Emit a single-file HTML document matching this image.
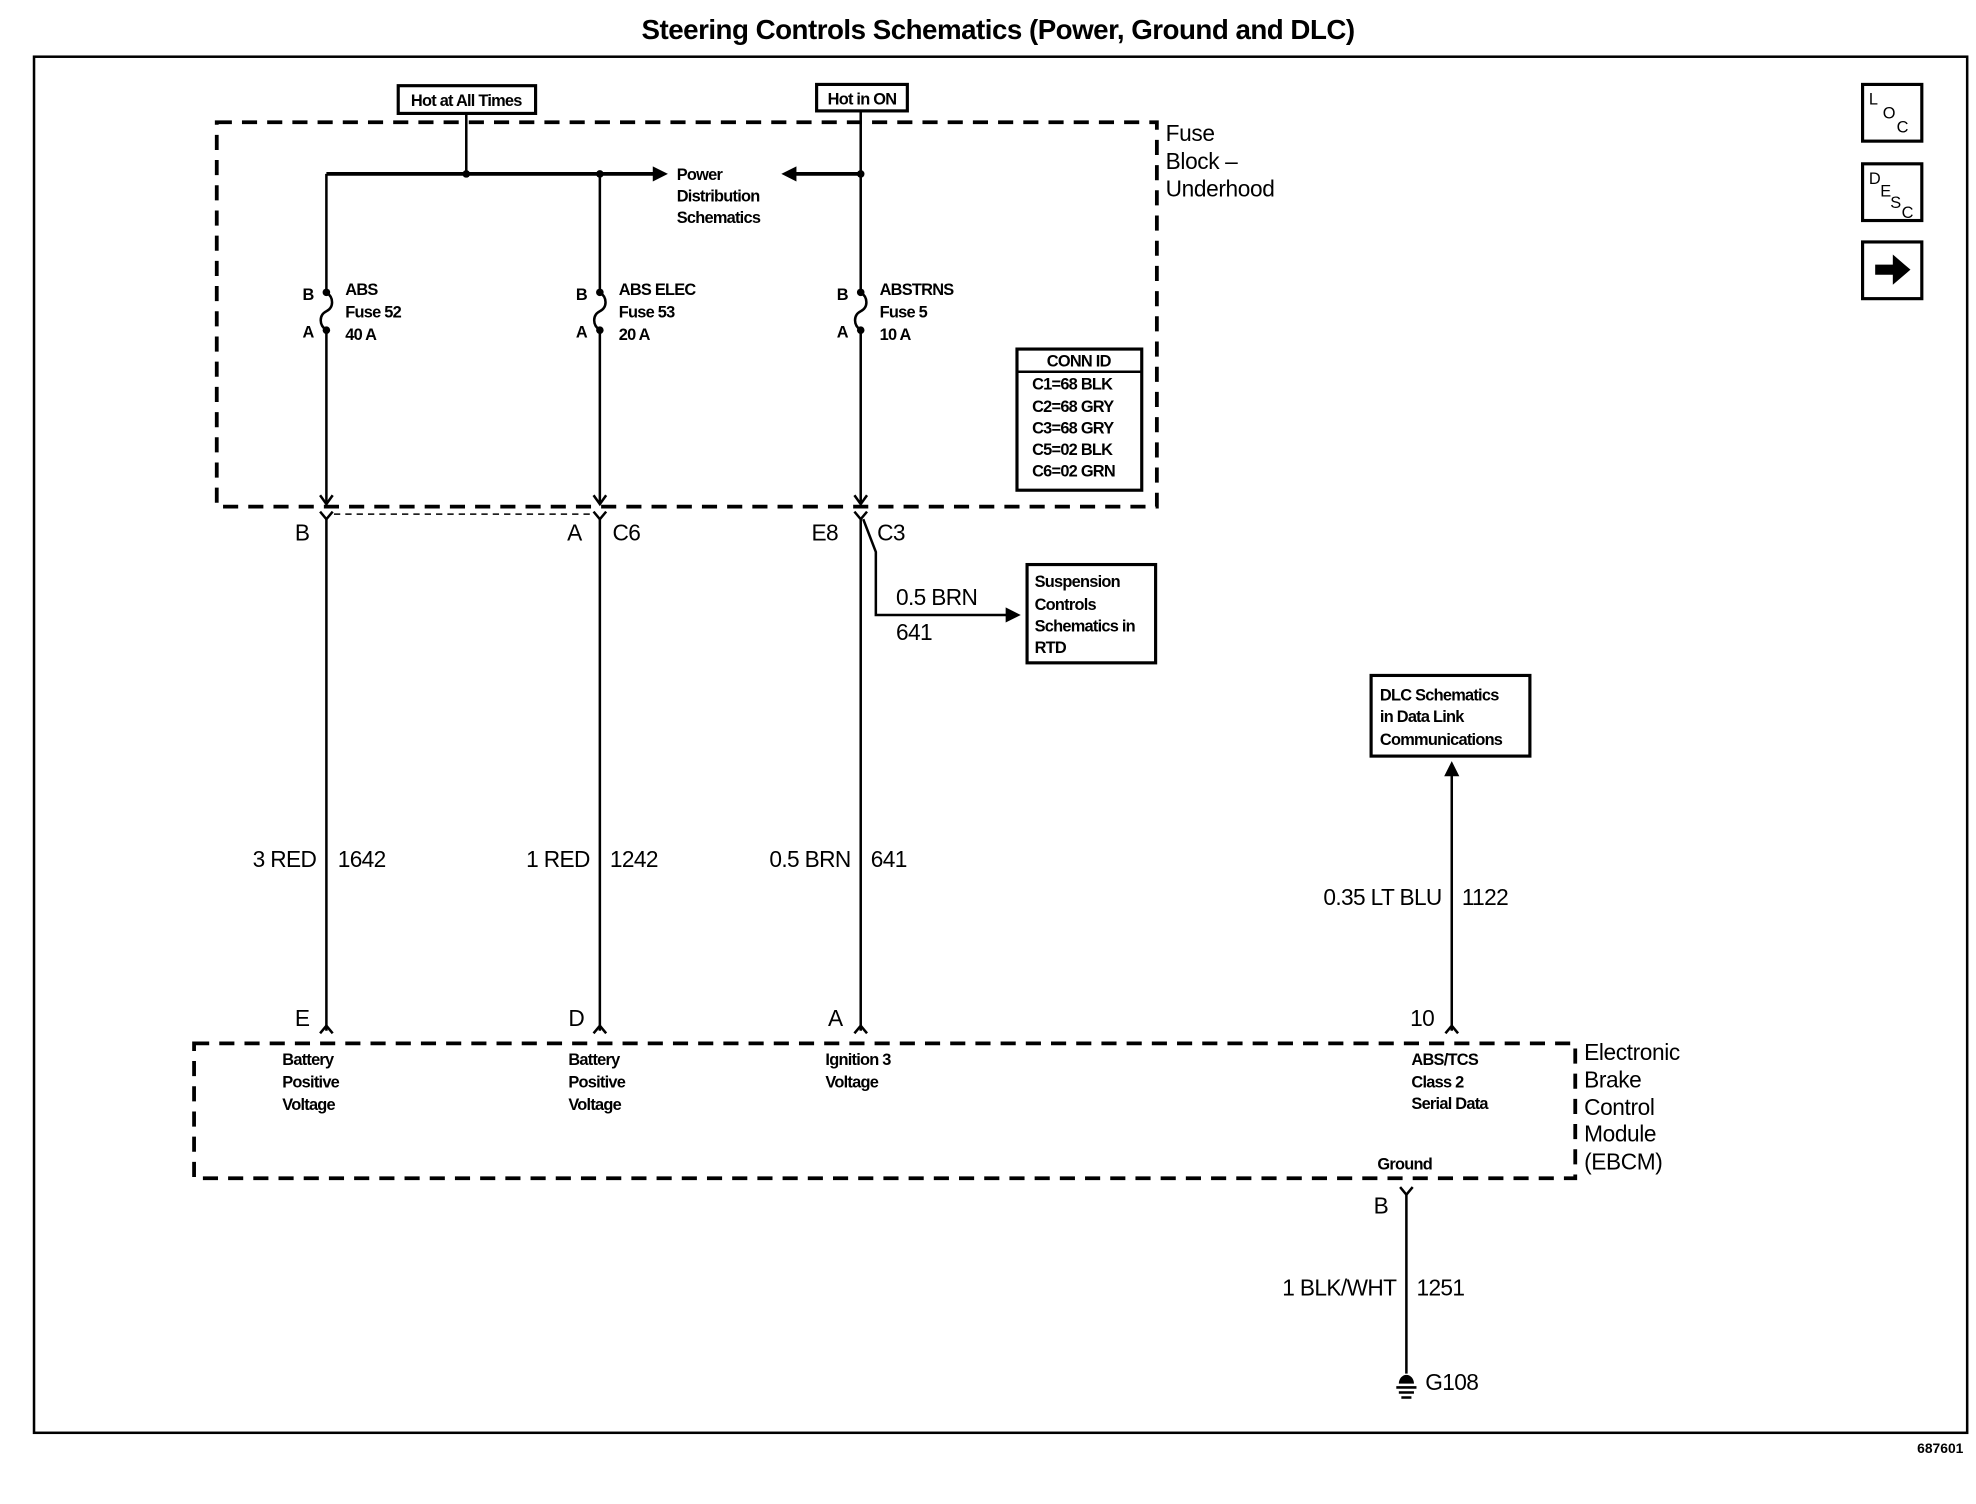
<!DOCTYPE html>
<html><head><meta charset="utf-8"><style>
html,body{margin:0;padding:0;background:#fff;}
svg{display:block;}
text{font-family:"Liberation Sans",sans-serif;fill:#000;}
.s{font-size:13px;font-weight:bold;letter-spacing:-0.6px;}
.m{font-size:18px;letter-spacing:-0.5px;}
.l{font-size:18px;letter-spacing:-0.3px;}
</style></head><body>
<svg width="1976" height="1504" viewBox="0 0 1568 1193.5" preserveAspectRatio="none" xmlns="http://www.w3.org/2000/svg">
<text x="792" y="31" text-anchor="middle" style="font-size:22px;font-weight:bold;letter-spacing:-0.4px">Steering Controls Schematics (Power, Ground and DLC)</text>
<rect x="27" y="45" width="1534" height="1092" fill="none" stroke="#000" stroke-width="2"/>
<text x="1558" y="1153" text-anchor="end" style="font-size:11px;font-weight:bold">687601</text>

<!-- icons -->
<g fill="none" stroke="#000" stroke-width="2.5">
<rect x="1478" y="67" width="47" height="45"/><rect x="1478" y="130" width="47" height="45"/><rect x="1478" y="192" width="47" height="45"/>
</g>
<text x="1483" y="83" style="font-size:13px">L</text><text x="1494" y="94" style="font-size:13px">O</text><text x="1505" y="105" style="font-size:13px">C</text>
<text x="1483" y="146" style="font-size:13px">D</text><text x="1492" y="156" style="font-size:13px">E</text><text x="1500" y="165" style="font-size:13px">S</text><text x="1509" y="173" style="font-size:13px">C</text>
<polygon points="1488,210 1502,210 1502,202 1516,214 1502,226 1502,218 1488,218" fill="#000"/>

<!-- fuse block -->
<rect x="172" y="97" width="746" height="305" fill="none" stroke="#000" stroke-width="3" stroke-dasharray="12,8"/>
<text x="925" y="112" class="l">Fuse</text><text x="925" y="134" class="l">Block –</text><text x="925" y="156" class="l">Underhood</text>

<rect x="316" y="68" width="109" height="22" fill="#fff" stroke="#000" stroke-width="2.5"/>
<text x="370" y="84" text-anchor="middle" class="s">Hot at All Times</text>
<rect x="648" y="67" width="72" height="21" fill="#fff" stroke="#000" stroke-width="2.5"/>
<text x="684" y="83" text-anchor="middle" class="s">Hot in ON</text>

<g stroke="#000" stroke-width="2" fill="none">
<line x1="370" y1="90" x2="370" y2="138"/>
<line x1="259" y1="138" x2="522" y2="138" stroke-width="3"/>
<line x1="630" y1="138" x2="683" y2="138" stroke-width="3"/>
<line x1="683" y1="88" x2="683" y2="232"/>
<line x1="259" y1="138" x2="259" y2="232"/>
<line x1="476" y1="138" x2="476" y2="232"/>
<line x1="259" y1="262" x2="259" y2="400"/>
<line x1="476" y1="262" x2="476" y2="400"/>
<line x1="683" y1="262" x2="683" y2="400"/>
<!-- fuse curves -->
<path d="M259,232 c6,4 6,12 0,15 c-6,3 -6,11 0,15"/>
<path d="M476,232 c6,4 6,12 0,15 c-6,3 -6,11 0,15"/>
<path d="M683,232 c6,4 6,12 0,15 c-6,3 -6,11 0,15"/>
<!-- arrows into bottom -->
<path d="M254,393 l5,7 l5,-7"/><path d="M471,393 l5,7 l5,-7"/><path d="M678,393 l5,7 l5,-7"/>
<!-- connectors below -->
<path d="M254,406 l5,6 l5,-6"/><path d="M471,406 l5,6 l5,-6"/><path d="M678,406 l5,6 l5,-6"/>
<line x1="265" y1="408" x2="470" y2="408" stroke-width="1.2" stroke-dasharray="5,4"/>
<line x1="259" y1="412" x2="259" y2="818"/>
<line x1="476" y1="412" x2="476" y2="818"/>
<line x1="683" y1="412" x2="683" y2="818"/>
<path d="M685,412 L695,438 L695,488 L800,488"/>
<line x1="1152" y1="612" x2="1152" y2="818"/>
<line x1="1116" y1="948" x2="1116" y2="1090"/>
<!-- bottom carets -->
<path d="M254,820 l5,-6 l5,6"/><path d="M471,820 l5,-6 l5,6"/><path d="M678,820 l5,-6 l5,6"/><path d="M1147,820 l5,-6 l5,6"/>
<path d="M1111,942 l5,6 l5,-6"/>
</g>
<g fill="#000">
<polygon points="530,138 518,132 518,144"/>
<polygon points="620,138 632,132 632,144"/>
<polygon points="810,488 798,482 798,494"/>
<polygon points="1152,604 1146,616 1158,616"/>
<circle cx="370" cy="138" r="3"/><circle cx="476" cy="138" r="3"/><circle cx="683" cy="138" r="3"/>
<circle cx="259" cy="232" r="3"/><circle cx="259" cy="262" r="3"/>
<circle cx="476" cy="232" r="3"/><circle cx="476" cy="262" r="3"/>
<circle cx="683" cy="232" r="3"/><circle cx="683" cy="262" r="3"/>
</g>
<text x="537" y="143" class="s">Power</text><text x="537" y="160" class="s">Distribution</text><text x="537" y="177" class="s">Schematics</text>

<text x="240" y="238" class="s">B</text><text x="240" y="268" class="s">A</text>
<text x="274" y="234" class="s">ABS</text><text x="274" y="252" class="s">Fuse 52</text><text x="274" y="270" class="s">40 A</text>
<text x="457" y="238" class="s">B</text><text x="457" y="268" class="s">A</text>
<text x="491" y="234" class="s">ABS ELEC</text><text x="491" y="252" class="s">Fuse 53</text><text x="491" y="270" class="s">20 A</text>
<text x="664" y="238" class="s">B</text><text x="664" y="268" class="s">A</text>
<text x="698" y="234" class="s">ABSTRNS</text><text x="698" y="252" class="s">Fuse 5</text><text x="698" y="270" class="s">10 A</text>

<rect x="807" y="277" width="99" height="112" fill="#fff" stroke="#000" stroke-width="2.5"/>
<line x1="807" y1="295" x2="906" y2="295" stroke="#000" stroke-width="2"/>
<text x="856" y="291" text-anchor="middle" class="s">CONN ID</text>
<text x="819" y="309" class="s">C1=68 BLK</text><text x="819" y="327" class="s">C2=68 GRY</text><text x="819" y="344" class="s">C3=68 GRY</text><text x="819" y="361" class="s">C5=02 BLK</text><text x="819" y="378" class="s">C6=02 GRN</text>

<text x="234" y="429" class="m">B</text><text x="450" y="429" class="m">A</text><text x="486" y="429" class="m">C6</text>
<text x="644" y="429" class="m">E8</text><text x="696" y="429" class="m">C3</text>
<text x="711" y="480" class="m">0.5 BRN</text><text x="711" y="508" class="m">641</text>

<rect x="815" y="448" width="102" height="78" fill="#fff" stroke="#000" stroke-width="2.5"/>
<text x="821" y="466" class="s">Suspension</text><text x="821" y="484" class="s">Controls</text><text x="821" y="501" class="s">Schematics in</text><text x="821" y="518" class="s">RTD</text>

<rect x="1088" y="536" width="126" height="64" fill="#fff" stroke="#000" stroke-width="2.5"/>
<text x="1095" y="556" class="s">DLC Schematics</text><text x="1095" y="573" class="s">in Data Link</text><text x="1095" y="591" class="s">Communications</text>

<text x="251" y="688" text-anchor="end" class="m">3 RED</text><text x="268" y="688" class="m">1642</text>
<text x="468" y="688" text-anchor="end" class="m">1 RED</text><text x="484" y="688" class="m">1242</text>
<text x="675" y="688" text-anchor="end" class="m">0.5 BRN</text><text x="691" y="688" class="m">641</text>
<text x="1144" y="718" text-anchor="end" class="m">0.35 LT BLU</text><text x="1160" y="718" class="m">1122</text>

<text x="234" y="814" class="m">E</text><text x="451" y="814" class="m">D</text><text x="657" y="814" class="m">A</text><text x="1119" y="814" class="m">10</text>

<rect x="154" y="828" width="1096" height="107" fill="none" stroke="#000" stroke-width="3" stroke-dasharray="12,8"/>
<text x="1257" y="841" class="l">Electronic</text><text x="1257" y="863" class="l">Brake</text><text x="1257" y="885" class="l">Control</text><text x="1257" y="906" class="l">Module</text><text x="1257" y="928" class="l">(EBCM)</text>

<text x="224" y="845" class="s">Battery</text><text x="224" y="863" class="s">Positive</text><text x="224" y="881" class="s">Voltage</text>
<text x="451" y="845" class="s">Battery</text><text x="451" y="863" class="s">Positive</text><text x="451" y="881" class="s">Voltage</text>
<text x="655" y="845" class="s">Ignition 3</text><text x="655" y="863" class="s">Voltage</text>
<text x="1120" y="845" class="s">ABS/TCS</text><text x="1120" y="863" class="s">Class 2</text><text x="1120" y="880" class="s">Serial Data</text>
<text x="1093" y="928" class="s">Ground</text>

<text x="1090" y="963" class="m">B</text>
<text x="1108" y="1028" text-anchor="end" class="m">1 BLK/WHT</text><text x="1124" y="1028" class="m">1251</text>
<path d="M1110,1098 a6,7 0 0 1 12,0 z" fill="#000"/>
<g stroke="#000" stroke-width="2"><line x1="1108" y1="1101" x2="1124" y2="1101"/><line x1="1110" y1="1105" x2="1122" y2="1105"/><line x1="1112" y1="1109" x2="1120" y2="1109"/></g>
<text x="1131" y="1103" class="m">G108</text>
</svg>
</body></html>
